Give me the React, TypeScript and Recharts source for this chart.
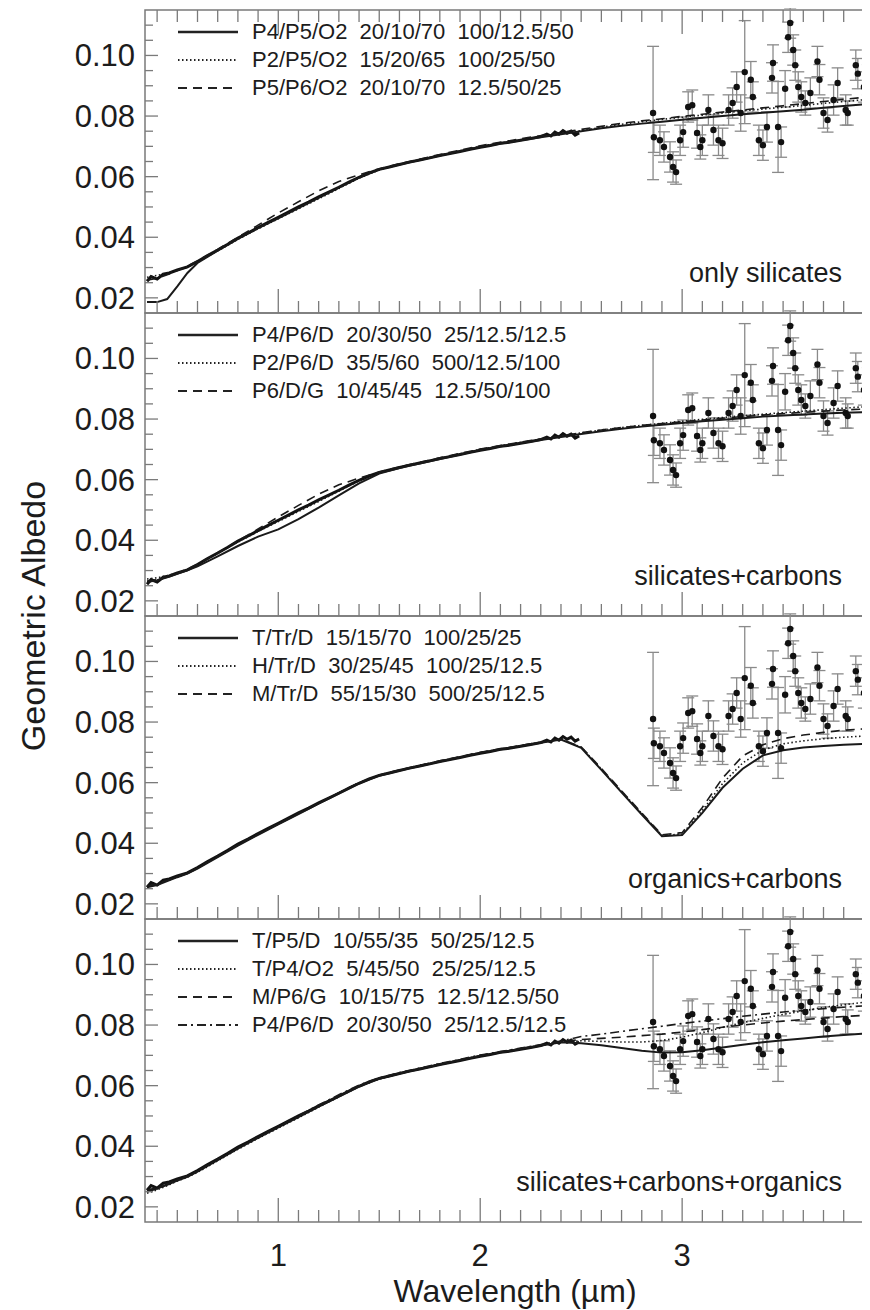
import React from "react";
import {
  ComposedChart,
  Line,
  Scatter,
  ErrorBar,
  XAxis,
  YAxis,
  ReferenceArea,
  Legend,
} from "recharts";

// observed spectrum, 0.35-2.5 um
const specWl = [
  0.35, 0.37, 0.4, 0.43, 0.46, 0.5, 0.55, 0.6, 0.65, 0.7, 0.75, 0.8, 0.85, 0.9, 0.95, 1.0, 1.05,
  1.1, 1.15, 1.2, 1.25, 1.3, 1.35, 1.4, 1.45, 1.5, 1.55, 1.6, 1.65, 1.7, 1.75, 1.8, 1.85, 1.9,
  1.95, 2.0, 2.05, 2.1, 2.15, 2.2, 2.25, 2.3, 2.33, 2.35, 2.37, 2.39, 2.41, 2.43, 2.45, 2.47, 2.49,
];
const specAlb = [
  0.0255, 0.027, 0.0262, 0.0278, 0.0282, 0.0292, 0.0302, 0.032, 0.034, 0.0358, 0.0377, 0.0397,
  0.0414, 0.0432, 0.0449, 0.0466, 0.0483, 0.05, 0.0516, 0.0533, 0.0549, 0.0565, 0.0582, 0.0598,
  0.0612, 0.0624, 0.0632, 0.064, 0.0648, 0.0655, 0.0662, 0.067, 0.0676, 0.0683, 0.069, 0.0697,
  0.0703, 0.071, 0.0714, 0.072, 0.0726, 0.0732, 0.074, 0.0734, 0.0747, 0.074, 0.0752, 0.0743,
  0.075, 0.0737, 0.0744,
];

// 3-um band measurements with error bars
const bandWl = [
  2.856, 2.86, 2.89, 2.91, 2.94, 2.955, 2.97, 2.99, 3.005, 3.03, 3.05, 3.074, 3.09, 3.1, 3.13,
  3.155, 3.18, 3.2, 3.23, 3.25, 3.27, 3.29, 3.31, 3.34, 3.35, 3.38, 3.4, 3.42, 3.445, 3.45, 3.475,
  3.49, 3.51, 3.525, 3.535, 3.55, 3.56, 3.575, 3.59, 3.61, 3.635, 3.67, 3.68, 3.7, 3.72, 3.75,
  3.77, 3.81, 3.82, 3.86, 3.87, 3.9, 3.92,
];
const bandAlb = [
  0.081, 0.073, 0.072, 0.0698, 0.0665, 0.0632, 0.0615, 0.072, 0.0747, 0.083, 0.0836, 0.0744,
  0.0698, 0.072, 0.082, 0.0754, 0.072, 0.071, 0.082, 0.0843, 0.0896, 0.081, 0.0945, 0.092, 0.0863,
  0.072, 0.0704, 0.0764, 0.0926, 0.0975, 0.0764, 0.0714, 0.089, 0.106, 0.1107, 0.1018, 0.0968,
  0.0896, 0.0863, 0.0843, 0.0876, 0.098, 0.092, 0.081, 0.0787, 0.0853, 0.0909, 0.082, 0.081,
  0.0968, 0.094, 0.0896, 0.092,
];
const bandErr = [
  0.022, 0.005, 0.005, 0.005, 0.005, 0.005, 0.004, 0.005, 0.005, 0.005, 0.005, 0.005, 0.004, 0.005,
  0.005, 0.005, 0.005, 0.005, 0.005, 0.005, 0.005, 0.006, 0.017, 0.006, 0.005, 0.005, 0.005, 0.005,
  0.005, 0.006, 0.015, 0.005, 0.006, 0.005, 0.005, 0.005, 0.005, 0.005, 0.005, 0.004, 0.005, 0.005,
  0.005, 0.005, 0.004, 0.005, 0.005, 0.005, 0.004, 0.005, 0.005, 0.005, 0.005,
];

// model wavelength grid
const modelWl = [
  0.35, 0.4, 0.45, 0.5, 0.55, 0.6, 0.7, 0.8, 0.9, 1.0, 1.1, 1.2, 1.3, 1.4, 1.5, 1.6, 1.8, 2.0, 2.2,
  2.4, 2.5, 2.6, 2.7, 2.8, 2.9, 3.0, 3.1, 3.2, 3.3, 3.4, 3.5, 3.6, 3.7, 3.8, 3.96,
];

// only silicates
const silP4P5O2 = [
  0.0186, 0.0186, 0.0196, 0.0238, 0.0282, 0.0315, 0.0356, 0.0395, 0.043, 0.0462, 0.0496, 0.053,
  0.0564, 0.0597, 0.0624, 0.064, 0.067, 0.0698, 0.072, 0.074, 0.075, 0.076, 0.0768, 0.0775, 0.0781,
  0.0788, 0.0794, 0.08, 0.0806, 0.0811, 0.0816, 0.0821, 0.0827, 0.0833, 0.0842,
];
const silP2P5O2 = [
  0.0268, 0.0274, 0.0282, 0.0291, 0.0301, 0.0318, 0.0355, 0.0393, 0.0428, 0.0461, 0.0494, 0.0527,
  0.0561, 0.0595, 0.0622, 0.064, 0.0671, 0.07, 0.0722, 0.0743, 0.0752, 0.0763, 0.0773, 0.0781,
  0.0789, 0.0796, 0.0803, 0.081, 0.0817, 0.0823, 0.0829, 0.0835, 0.0842, 0.0848, 0.0857,
];
const silP5P6O2 = [
  0.0258, 0.0265, 0.0276, 0.029, 0.0305, 0.0322, 0.036, 0.04, 0.044, 0.048, 0.0517, 0.0553, 0.0584,
  0.0606, 0.0626, 0.0643, 0.0673, 0.0702, 0.0725, 0.0746, 0.0756, 0.0766, 0.0776, 0.0784, 0.0791,
  0.0799, 0.0806, 0.0813, 0.082, 0.0827, 0.0834, 0.0841, 0.0848, 0.0855, 0.0866,
];

// silicates + carbons
const scP4P6D = [
  0.0262, 0.0268, 0.0278, 0.0289, 0.0301, 0.0314, 0.0347, 0.0381, 0.0412, 0.0436, 0.047, 0.0508,
  0.0548, 0.0588, 0.062, 0.0638, 0.0668, 0.0698, 0.0721, 0.0741, 0.0751, 0.076, 0.0768, 0.0775,
  0.0781, 0.0787, 0.0793, 0.0798, 0.0803, 0.0808, 0.0812, 0.0815, 0.0818, 0.0821, 0.0824,
];
const scP2P6D = [
  0.0272, 0.0276, 0.0283, 0.0292, 0.0302, 0.0319, 0.0356, 0.0394, 0.0429, 0.0462, 0.0495, 0.0528,
  0.0562, 0.0596, 0.0623, 0.0641, 0.0671, 0.07, 0.0723, 0.0744, 0.0754, 0.0764, 0.0772, 0.0779,
  0.0786, 0.0793, 0.0799, 0.0805, 0.0811, 0.0816, 0.0821, 0.0826, 0.0831, 0.0836, 0.0843,
];
const scP6DG = [
  0.0265, 0.027, 0.0279, 0.0291, 0.0305, 0.0321, 0.0358, 0.0398, 0.0437, 0.0477, 0.0515, 0.0552,
  0.0583, 0.0605, 0.0625, 0.0642, 0.0672, 0.0701, 0.0724, 0.0745, 0.0755, 0.0764, 0.0772, 0.0779,
  0.0785, 0.0791, 0.0797, 0.0803, 0.0808, 0.0813, 0.0818, 0.0822, 0.0826, 0.083, 0.0835,
];

// organics + carbons
const ocTTrD = [
  0.0255, 0.0262, 0.0275, 0.0288, 0.03, 0.0316, 0.0354, 0.0392, 0.0428, 0.0462, 0.0496, 0.0531,
  0.0565, 0.0598, 0.0623, 0.064, 0.067, 0.0698, 0.0721, 0.0742, 0.0715, 0.0642, 0.0568, 0.0495,
  0.0423, 0.0427, 0.05, 0.0583, 0.0646, 0.069, 0.0707, 0.0716, 0.0721, 0.0725, 0.073,
];
const ocHTrD = [
  0.0258, 0.0265, 0.0277, 0.0289, 0.0301, 0.0318, 0.0356, 0.0394, 0.043, 0.0464, 0.0498, 0.0532,
  0.0566, 0.0599, 0.0624, 0.0641, 0.0671, 0.0699, 0.0722, 0.0743, 0.0717, 0.0645, 0.0571, 0.0498,
  0.0426, 0.043, 0.0508, 0.0597, 0.0665, 0.0708, 0.0728, 0.0738, 0.0745, 0.075, 0.0756,
];
const ocMTrD = [
  0.026, 0.0266, 0.0278, 0.029, 0.0302, 0.0319, 0.0357, 0.0395, 0.0431, 0.0465, 0.0499, 0.0533,
  0.0567, 0.06, 0.0625, 0.0642, 0.0672, 0.07, 0.0723, 0.0744, 0.0718, 0.0647, 0.0573, 0.05, 0.0428,
  0.0435, 0.0518, 0.0615, 0.0688, 0.0725, 0.0745, 0.0757, 0.0766, 0.0773, 0.078,
];

// silicates + carbons + organics
const scoTP5D = [
  0.025, 0.026, 0.0273, 0.0287, 0.0299, 0.0316, 0.0354, 0.0392, 0.0428, 0.0462, 0.0496, 0.0531,
  0.0565, 0.0598, 0.0623, 0.064, 0.067, 0.0698, 0.0721, 0.0743, 0.074, 0.0733, 0.0724, 0.0715,
  0.0709, 0.071, 0.0717, 0.0726, 0.0735, 0.0743, 0.075, 0.0756, 0.0762, 0.0767, 0.0774,
];
const scoTP4O2 = [
  0.0245, 0.0256, 0.027, 0.0285, 0.0298, 0.0314, 0.0352, 0.039, 0.0426, 0.046, 0.0494, 0.0529,
  0.0563, 0.0597, 0.0622, 0.064, 0.067, 0.0699, 0.0722, 0.0744, 0.0748, 0.0746, 0.0744, 0.0744,
  0.0749, 0.076, 0.0775, 0.0792, 0.0808, 0.0822, 0.0835, 0.0847, 0.0858, 0.0867, 0.088,
];
const scoMP6G = [
  0.0252, 0.0262, 0.0274, 0.0288, 0.03, 0.0317, 0.0355, 0.0393, 0.0429, 0.0463, 0.0497, 0.0532,
  0.0566, 0.0599, 0.0624, 0.0641, 0.0671, 0.0699, 0.0722, 0.0745, 0.0752, 0.0756, 0.076, 0.0765,
  0.077, 0.0777, 0.0785, 0.0793, 0.08, 0.0807, 0.0813, 0.0818, 0.0823, 0.0828, 0.0834,
];
const scoP4P6D = [
  0.0255, 0.0264, 0.0276, 0.029, 0.0302, 0.0319, 0.0357, 0.0395, 0.0431, 0.0466, 0.0501, 0.0536,
  0.057, 0.0602, 0.0626, 0.0643, 0.0673, 0.0701, 0.0724, 0.0747, 0.0762, 0.077, 0.0779, 0.0788,
  0.0796, 0.0805, 0.0813, 0.0821, 0.0829, 0.0836, 0.0843, 0.0849, 0.0854, 0.0859, 0.0866,
];

const panelLabels = ["only silicates", "silicates+carbons", "organics+carbons", "silicates+carbons+organics"];
const legendNames = [
  ["P4/P5/O2  20/10/70  100/12.5/50", "P2/P5/O2  15/20/65  100/25/50", "P5/P6/O2  20/10/70  12.5/50/25"],
  ["P4/P6/D  20/30/50  25/12.5/12.5", "P2/P6/D  35/5/60  500/12.5/100", "P6/D/G  10/45/45  12.5/50/100"],
  ["T/Tr/D  15/15/70  100/25/25", "H/Tr/D  30/25/45  100/25/12.5", "M/Tr/D  55/15/30  500/25/12.5"],
  [
    "T/P5/D  10/55/35  50/25/12.5",
    "T/P4/O2  5/45/50  25/25/12.5",
    "M/P6/G  10/15/75  12.5/12.5/50",
    "P4/P6/D  20/30/50  25/12.5/12.5",
  ],
];
const panelModels = [
  [silP4P5O2, silP2P5O2, silP5P6O2],
  [scP4P6D, scP2P6D, scP6DG],
  [ocTTrD, ocHTrD, ocMTrD],
  [scoTP5D, scoTP4O2, scoMP6G, scoP4P6D],
];

const xTicks = [
  0.4, 0.5, 0.6, 0.7, 0.8, 0.9, 1.0, 1.1, 1.2, 1.3, 1.4, 1.5, 1.6, 1.7, 1.8, 1.9, 2.0, 2.1, 2.2,
  2.3, 2.4, 2.5, 2.6, 2.7, 2.8, 2.9, 3.0, 3.1, 3.2, 3.3, 3.4, 3.5, 3.6, 3.7, 3.8, 3.9,
];
const yTicks = [
  0.02, 0.025, 0.03, 0.035, 0.04, 0.045, 0.05, 0.055, 0.06, 0.065, 0.07, 0.075, 0.08, 0.085, 0.09,
  0.095, 0.1, 0.105, 0.11,
];

const FONT = '"Liberation Sans", Arial, Helvetica, sans-serif';
const AXIS = "#7a7a7a";
const INK = "#1c1c1c";
const DASHES = [undefined, "1.5 2.5", "9 6", "9 4 2 4"];

const CW = 880;
const PW = 731;
const PH = 303;
const MT = 12;
const YW = 130;
const ML = 7;

const specData = specWl.map((x, i) => ({ x, y: specAlb[i] }));
const bandData = bandWl.map((x, i) => ({ x, y: bandAlb[i], err: bandErr[i] }));
const toModel = (vals: number[]) => modelWl.map((x, i) => ({ x, y: vals[i] }));

const XTick = (props: any) => {
  const { x, y, payload, top, labels } = props;
  const v = payload.value;
  const major = Math.abs(v - Math.round(v)) < 1e-6;
  const len = major ? 24 : 12;
  return (
    <g>
      <line x1={x} y1={y} x2={x} y2={y - len} stroke={AXIS} strokeWidth={1.3} />
      {top && <line x1={x} y1={y - PH} x2={x} y2={y - PH + len} stroke={AXIS} strokeWidth={1.3} />}
      {labels && major && (
        <text x={x} y={y + 44} textAnchor="middle" fontSize={31} fill={INK} fontFamily={FONT}>
          {Math.round(v)}
        </text>
      )}
    </g>
  );
};

const YTick = (props: any) => {
  const { x, y, payload } = props;
  const v = payload.value;
  const major = Math.abs(v * 50 - Math.round(v * 50)) < 1e-6;
  const len = major ? 13 : 8;
  return (
    <g>
      <line x1={x} y1={y} x2={x + len} y2={y} stroke={AXIS} strokeWidth={1.3} />
      <line x1={x + PW} y1={y} x2={x + PW - len} y2={y} stroke={AXIS} strokeWidth={1.3} />
      {major && (
        <text x={x - 10} y={y + 11} textAnchor="end" fontSize={31} fill={INK} fontFamily={FONT}>
          {v.toFixed(2)}
        </text>
      )}
    </g>
  );
};

const LegendBox = ({ names }: { names: string[] }) => (
  <div style={{ fontFamily: FONT }}>
    {names.map((n, i) => (
      <div key={n} style={{ display: "flex", alignItems: "center", height: 28 }}>
        <svg width={60} height={8}>
          <line x1={0} y1={4} x2={60} y2={4} stroke="#222" strokeWidth={i === 0 ? 2.6 : 2} strokeDasharray={DASHES[i]} />
        </svg>
        <span style={{ marginLeft: 14, fontSize: 22, whiteSpace: "pre", color: INK, lineHeight: 1 }}>{n}</span>
      </div>
    ))}
  </div>
);

function Panel({ idx, last }: { idx: number; last: boolean }) {
  const xh = last ? 90 : 12;
  const h = MT + PH + xh;
  const models = panelModels[idx];
  return (
    <div style={{ position: "absolute", left: 0, top: 2 + PH * idx - MT, width: CW, height: h }}>
      <ComposedChart width={CW} height={h} margin={{ top: MT, right: CW - ML - YW - PW, bottom: 0, left: ML }}>
        <XAxis
          type="number"
          dataKey="x"
          domain={[0.34, 3.96]}
          allowDataOverflow
          ticks={xTicks}
          interval={0}
          height={xh}
          tickSize={0}
          tickMargin={0}
          axisLine={false}
          tick={(p: any) => <XTick {...p} top={idx === 0} labels={last} />}
        />
        <YAxis
          type="number"
          dataKey="y"
          domain={[0.015, 0.115]}
          allowDataOverflow
          ticks={yTicks}
          interval={0}
          width={YW}
          tickSize={0}
          tickMargin={0}
          axisLine={false}
          tick={(p: any) => <YTick {...p} />}
        />
        <ReferenceArea x1={0.34} x2={3.96} y1={0.015} y2={0.115} fill="none" stroke={AXIS} strokeWidth={1.5} />
        <Scatter
          data={bandData}
          dataKey="y"
          isAnimationActive={false}
          shape={(p: any) => <circle cx={p.cx} cy={p.cy} r={3.2} fill="#111" />}
        >
          <ErrorBar dataKey="err" direction="y" width={6} stroke="#8a8a8a" strokeWidth={1.3} />
        </Scatter>
        <Line data={specData} dataKey="y" stroke="#111" strokeWidth={3} dot={false} isAnimationActive={false} />
        {models.map((m, i) => (
          <Line
            key={i}
            data={toModel(m)}
            dataKey="y"
            stroke="#1a1a1a"
            strokeWidth={i === 0 ? 2 : 1.6}
            strokeDasharray={DASHES[i]}
            dot={false}
            isAnimationActive={false}
          />
        ))}
        <Legend
          layout="horizontal"
          verticalAlign="middle"
          align="center"
          wrapperStyle={{ top: MT + 8, left: 170, width: "auto" }}
          content={() => <LegendBox names={legendNames[idx]} />}
        />
      </ComposedChart>
      <div
        style={{
          position: "absolute",
          right: 46,
          top: MT + PH - 53,
          fontSize: 27,
          lineHeight: 1,
          color: INK,
          fontFamily: FONT,
          whiteSpace: "nowrap",
        }}
      >
        {panelLabels[idx]}
      </div>
    </div>
  );
}

export default function App() {
  return (
    <div style={{ position: "relative", width: 862, height: 1302, overflow: "hidden", fontFamily: FONT }}>
      {[0, 1, 2, 3].map((i) => (
        <Panel key={i} idx={i} last={i === 3} />
      ))}
      <div
        style={{
          position: "absolute",
          left: 25,
          top: 608,
          transform: "translate(-50%, -50%) rotate(-90deg)",
          fontSize: 34,
          lineHeight: 1,
          whiteSpace: "nowrap",
          color: INK,
        }}
      >
        Geometric Albedo
      </div>
      <div
        style={{
          position: "absolute",
          left: 507,
          top: 1267,
          transform: "translateX(-50%)",
          fontSize: 32,
          lineHeight: 1,
          whiteSpace: "nowrap",
          color: INK,
        }}
      >
        Wavelength (µm)
      </div>
    </div>
  );
}
